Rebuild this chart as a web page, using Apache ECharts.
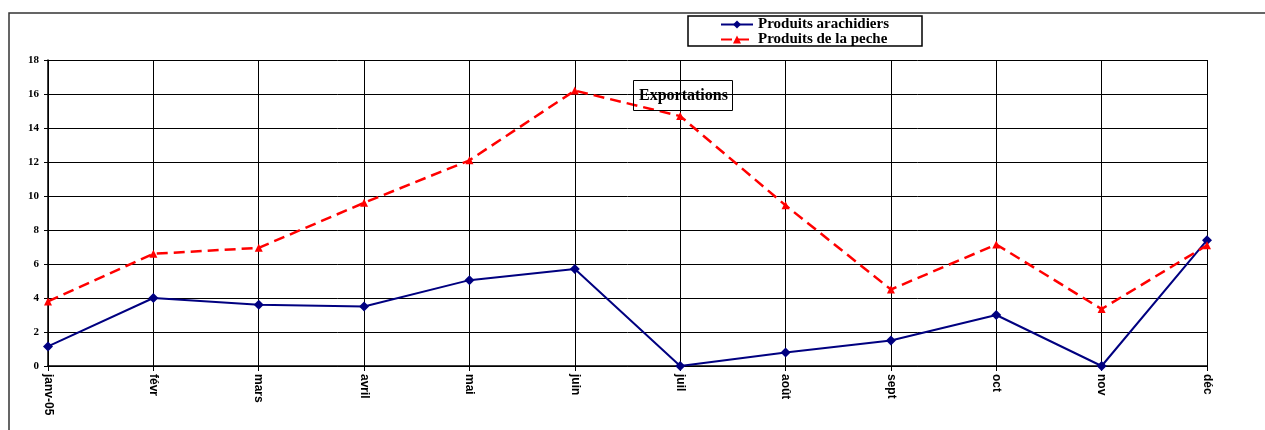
<!DOCTYPE html>
<html><head><meta charset="utf-8">
<script src="https://cdn.jsdelivr.net/npm/echarts@6/dist/echarts.min.js"></script>
<style>html,body{margin:0;padding:0;background:#fff}#c{width:1265px;height:430px}</style>
</head><body><div id="c"></div>
<script>
var categories = ['janv-05','févr','mars','avril','mai','juin','juil','août','sept','oct','nov','déc'];
var arachidiers = [1.15, 4.0, 3.6, 3.5, 5.05, 5.7, 0, 0.8, 1.5, 3.0, 0, 7.4];
var peche = [3.8, 6.6, 6.95, 9.6, 12.1, 16.2, 14.7, 9.45, 4.5, 7.15, 3.35, 7.1];
var seriesNames = ['Produits arachidiers', 'Produits de la peche'];
var titleText = 'Exportations';

var chart = echarts.init(document.getElementById('c'));
chart.setOption({
  animation: false,
  backgroundColor: '#fff',
  title: {
    text: titleText, left: 633, top: 80,
    borderColor: '#000', borderWidth: 1, padding: [8, 5, 7, 6],
    textStyle: { fontFamily: 'Liberation Serif', fontWeight: 'bold', fontSize: 16, color: '#000' }
  },
  legend: {
    orient: 'vertical', left: 720, top: 17, itemGap: 0, itemWidth: 32, itemHeight: 10,
    padding: 0,
    textStyle: { fontFamily: 'Liberation Serif', fontWeight: 'bold', fontSize: 15, color: '#000', padding: [0,0,0,0], lineHeight: 14 },
    data: seriesNames
  },
  graphic: [
    { type: 'rect', shape: { x: 9, y: 13, width: 1320, height: 500 }, style: { fill: 'none', stroke: '#333', lineWidth: 1.5 }, silent: true },
    { type: 'rect', shape: { x: 688, y: 16, width: 234, height: 30 }, style: { fill: 'none', stroke: '#000', lineWidth: 1.5 }, silent: true }
  ],
  grid: { left: 48, right: 58, top: 60, bottom: 64 },
  xAxis: {
    type: 'category', data: categories, boundaryGap: false,
    axisLine: { lineStyle: { color: '#000', width: 1.5 } },
    axisTick: { show: true, length: 5, lineStyle: { color: '#000' } },
    splitLine: { show: true, lineStyle: { color: '#000', width: 1 } },
    axisLabel: { rotate: -90, margin: 8, fontFamily: 'Liberation Sans', fontWeight: 'bold', fontSize: 12, color: '#000', interval: 0 }
  },
  yAxis: {
    type: 'value', min: 0, max: 18, interval: 2,
    axisLine: { show: true, lineStyle: { color: '#000', width: 1.5 } },
    axisTick: { show: true, length: 4, lineStyle: { color: '#000' } },
    splitLine: { show: true, lineStyle: { color: '#000', width: 1 } },
    axisLabel: { margin: 9, fontFamily: 'Liberation Serif', fontWeight: 'bold', fontSize: 11, color: '#000' }
  },
  series: [
    { name: seriesNames[0], type: 'line', data: arachidiers, symbol: 'diamond', symbolSize: 10,
      itemStyle: { color: '#000080' }, lineStyle: { color: '#000080', width: 2 } },
    { name: seriesNames[1], type: 'line', data: peche, symbol: 'triangle', symbolSize: 8,
      itemStyle: { color: '#ff0000' }, lineStyle: { color: '#ff0000', width: 2.5, type: [11, 6] } }
  ]
});
</script></body></html>
